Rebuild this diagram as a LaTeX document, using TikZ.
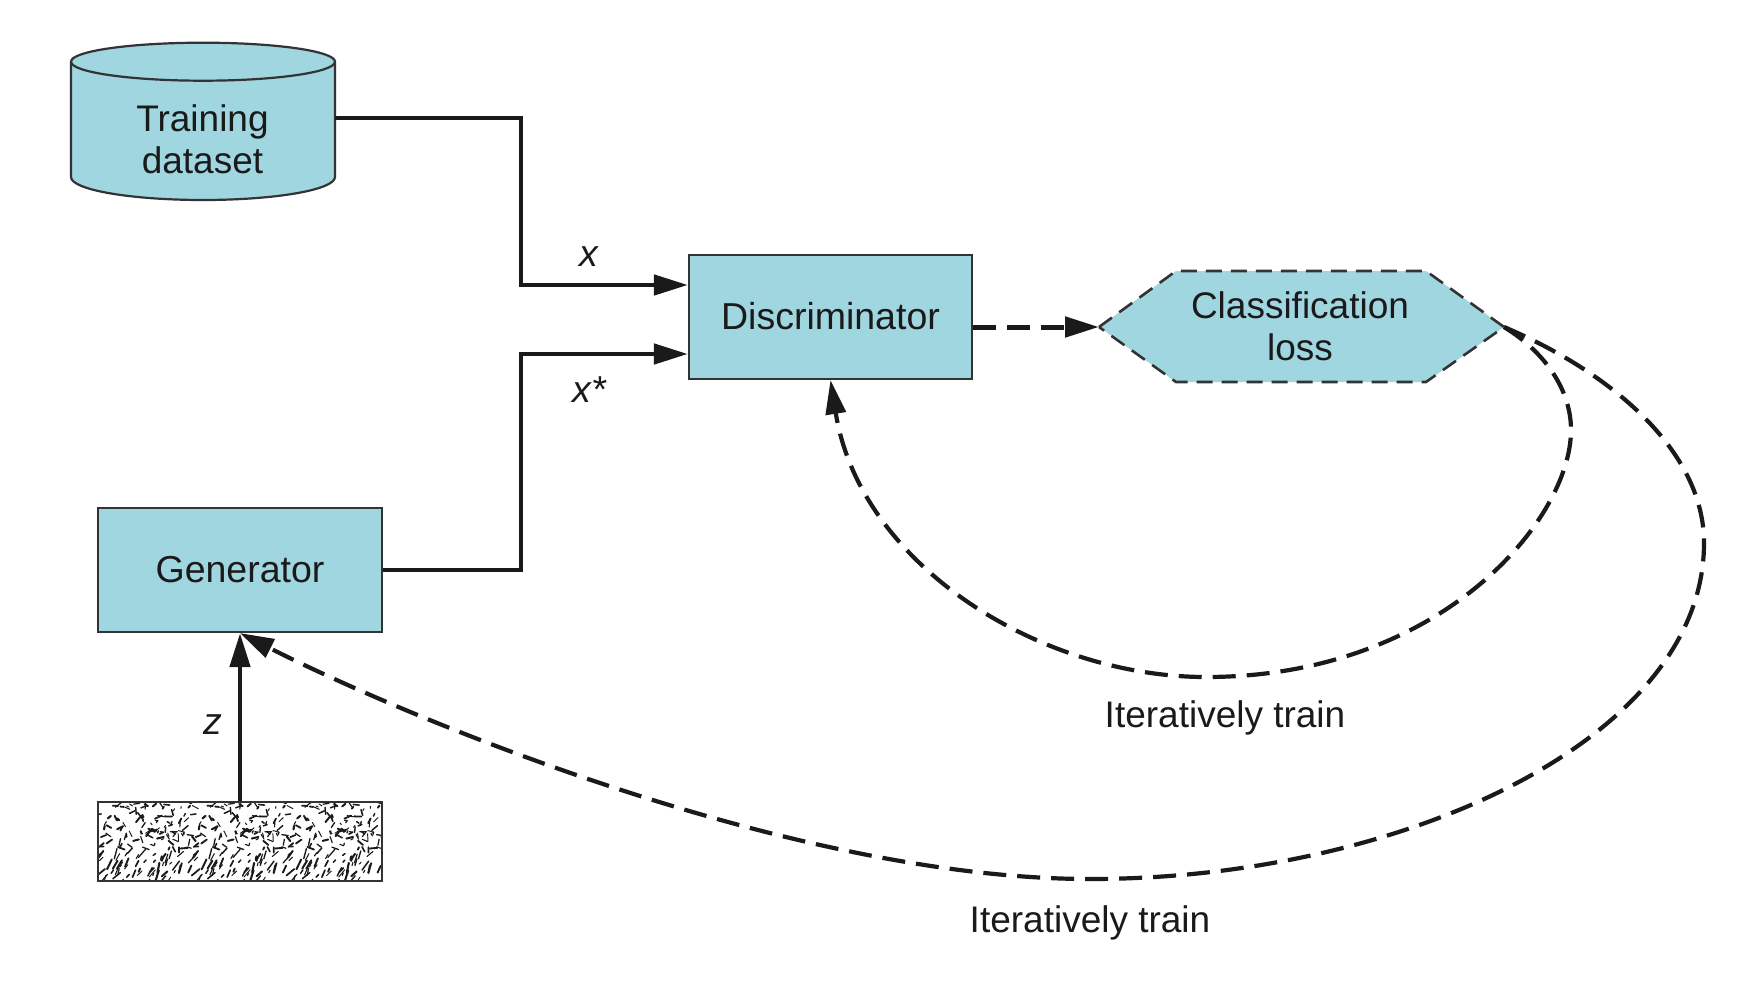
\documentclass[tikz,border=0pt]{standalone}
\usepackage{fontspec}
\setmainfont{Liberation Sans}
\usetikzlibrary{arrows.meta,calc}
\definecolor{boxfill}{HTML}{A0D6E0}
\definecolor{ink}{HTML}{1A1A1A}
\definecolor{edgeink}{HTML}{333333}
\tikzset{
  lbl/.style={font=\fontsize{37}{42}\selectfont,text=ink,align=center,inner sep=0pt},
  mathlbl/.style={font=\fontsize{37.5}{42}\selectfont\itshape,text=ink,inner sep=0pt},
  bluebox/.style={draw=edgeink,line width=2.2pt,fill=boxfill,rectangle,inner sep=0pt,font=\fontsize{37.5}{42}\selectfont,text=ink,align=center},
  flow/.style={draw=ink,line width=4.7pt,-{Triangle[length=34pt,width=20pt]}},
  lossdash/.style={draw=ink,line width=5pt,dash pattern=on 23pt off 11pt,-{Triangle[length=34pt,width=20pt]}},
  trainloop/.style={draw=ink,line width=4.2pt,dash pattern=on 23pt off 11pt,-{Triangle[length=34pt,width=20pt]}},
}
\begin{document}
\begin{tikzpicture}[x=1pt,y=-1pt]
\useasboundingbox[fill=white] (0,0) rectangle (1760,990);
% cylinder
\path[fill=boxfill,draw=edgeink,line width=2.2pt] (71,61.7) -- (71,177) arc[start angle=180,end angle=0,x radius=132,y radius=23] -- (335,61.7) arc[start angle=0,end angle=-180,x radius=132,y radius=19] -- cycle;
\draw[edgeink,line width=2.2pt] (71,61.7) arc[start angle=180,end angle=0,x radius=132,y radius=19];
\node[rectangle,minimum width=264pt,minimum height=157pt,inner sep=0pt] (train) at (203,121.5) {};
\node[lbl] (traintext) at (202.5,139) {Training\\dataset};
% boxes
\node[bluebox,minimum width=283pt,minimum height=124pt] (disc) at (830.5,317) {\raisebox{1.5pt}{Discriminator}};
\node[bluebox,minimum width=284pt,minimum height=124pt] (gen) at (240,570) {Generator};
% noise
\begin{scope}
\clip (98,802) rectangle (382,881);
\foreach \t in {0,1,2}{
  \pgfmathsetseed{91827}
  \foreach \i in {1,...,165}{
    \pgfmathsetmacro{\px}{98+\t*94.7+rnd*94.7}
    \pgfmathsetmacro{\py}{802+rnd*79}
    \pgfmathsetmacro{\rnda}{rnd}
    \pgfmathsetmacro{\rndb}{rnd}
    \pgfmathsetmacro{\ang}{\py>848 ? 100+\rnda*45 : \rnda*180}
    \pgfmathsetmacro{\len}{\py>848 ? 2.5+\rndb*9 : 1.5+\rndb*6}
    \pgfmathsetmacro{\wid}{0.9+rnd*1.2}
    \draw[ink,line width=\wid pt,line cap=round] (\px,\py) -- ++(\ang:\len);
  }
}
\end{scope}
\node[rectangle,draw=edgeink,line width=2.4pt,minimum width=284pt,minimum height=79pt,inner sep=0pt] (noise) at (240,841.5) {};
% hexagon
\path[fill=boxfill] (1099,327) -- (1176,271) -- (1426,271) -- (1504,327) -- (1426,382) -- (1176,382) -- cycle;
\draw[edgeink,line width=2.6pt,dash pattern=on 16pt off 9pt] (1099,327) -- (1176,271) -- (1426,271) -- (1504,327) -- (1426,382) -- (1176,382) -- cycle;
\coordinate (lossL) at (1099,327);
\coordinate (lossR) at (1504,327);
\node[bluebox,draw=none,fill=none,font=\fontsize{37}{42}\selectfont] (loss) at (1300,326) {Classification\\loss};
% connectors
\coordinate (elbowA) at (521,285);
\coordinate (elbowB) at (521,354);
\coordinate (discA) at (disc.west |- elbowA);
\coordinate (discB) at (disc.west |- elbowB);
\draw[flow] ([yshift=3.5pt]train.east) -| (elbowA) -- (discA);
\draw[flow] (gen.east) -| (elbowB) -- (discB);
\draw[flow] (noise.north) -- (gen.south);
\draw[lossdash] (disc.east |- lossL) -- (lossL);
\coordinate (innerE) at (1571,430);
\coordinate (innerB) at (1206,677);
\coordinate (outerE) at (1704,543);
\coordinate (outerB) at (1090,879);
\draw[trainloop] (lossR) .. controls (1545,352) and (1571,390) .. (innerE) .. controls (1571,520) and (1440,677) .. (innerB) .. controls (1040,677) and (860,565) .. (disc.south);
\draw[trainloop] (lossR) .. controls (1610,372) and (1704,450) .. (outerE) .. controls (1704,740) and (1400,879) .. (outerB) .. controls (800,879) and (420,724) .. (gen.south);
% labels
\node[mathlbl] (xlabel) at (589,257) {x};
\node[mathlbl] (xstar) at (589,390) {x*};
\node[mathlbl] (zlabel) at (213,725) {z};
\node[lbl] (iterA) at (1225,718) {Iteratively train};
\node[lbl] (iterB) at (1090,923) {Iteratively train};
\end{tikzpicture}
\end{document}
